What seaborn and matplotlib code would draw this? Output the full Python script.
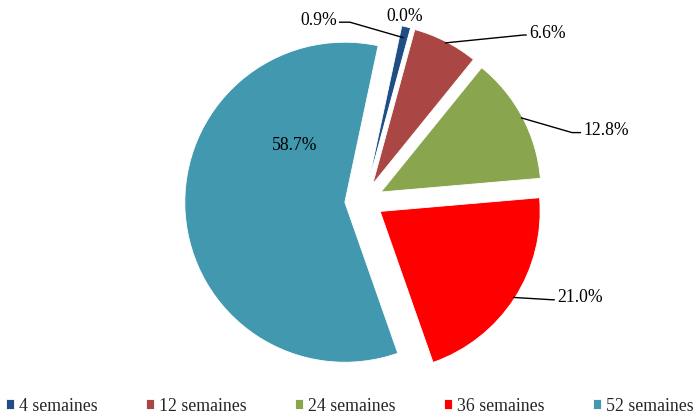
import numpy as np
import matplotlib
matplotlib.use("Agg")
import matplotlib.pyplot as plt
import seaborn as sns

# ---- Data -------------------------------------------------------------------
categories = ["4 semaines", "", "12 semaines", "24 semaines", "36 semaines", "52 semaines"]
shares = [0.9, 0.0, 6.6, 12.8, 21.0, 58.7]
labels = ["0.9%", "0.0%", "6.6%", "12.8%", "21.0%", "58.7%"]
colors = ["#1F4E86", "#7F7F7F", "#AA4643", "#89A54E", "#FF0000", "#4198AF"]

sns.set_theme(style="white")
plt.rcParams["font.family"] = ["Liberation Serif", "DejaVu Serif"]

PX = 160.0  # pixels per data unit (pie radius)

# ---- Figure -----------------------------------------------------------------
fig = plt.figure(figsize=(6.99, 4.19), dpi=100)
ax = fig.add_axes([0, 0, 1, 1])

wedges, _ = ax.pie(
    shares,
    colors=colors,
    startangle=78,
    counterclock=False,
    explode=[0.12] * len(shares),
    radius=1.0,
    wedgeprops=dict(edgecolor="white", linewidth=0.6),
)

# pie centre at (364, 201) px from top-left
ax.set_xlim(-364 / PX, (699 - 364) / PX)
ax.set_ylim(-(419 - 201) / PX, 201 / PX)
ax.set_aspect("auto")
ax.axis("off")

# ---- Percent labels ---------------------------------------------------------
# text anchor (data coords), alignment, leader elbow gap in px (None = no line),
# radial position of the leader end on the slice
label_pos = [
    ((-0.169, 1.13), "right", 13, 0.93),
    ((0.256, 1.155), "center", None, 1.0),
    ((1.03, 1.05), "left", 5, 0.99),
    ((1.369, 0.44), "left", 11, 0.99),
    ((1.205, -0.605), "left", 4, 0.99),
    ((-0.431, 0.35), "center", None, 1.0),
]

for w, lab, (xy_text, ha, gap, rfac) in zip(wedges, labels, label_pos):
    ax.text(xy_text[0], xy_text[1], lab, ha=ha, va="center",
            fontsize=12.7, color="black")
    if gap is None:
        continue
    mid = np.deg2rad((w.theta1 + w.theta2) / 2)
    cx, cy = w.center
    ax_, ay_ = cx + w.r * rfac * np.cos(mid), cy + w.r * rfac * np.sin(mid)
    sign = 1 if ha == "right" else -1
    tx = xy_text[0] + sign * 2 / PX
    ex = xy_text[0] + sign * gap / PX
    ty = xy_text[1] - 2 / PX
    ax.plot([ax_, ex, tx], [ay_, ty, ty], color="black", lw=1.0,
            solid_capstyle="butt")

# ---- Legend -----------------------------------------------------------------
handles = [w for w, c in zip(wedges, categories) if c]
names = [c for c in categories if c]
fig.legend(
    handles, names,
    loc="center left", bbox_to_anchor=(6 / 699, 13 / 419),
    ncol=5, frameon=False, fontsize=12.8,
    handlelength=0.43, handleheight=0.43, handletextpad=0.28,
    columnspacing=2.75, borderpad=0, borderaxespad=0,
)

fig.savefig("out.png", dpi=100)
